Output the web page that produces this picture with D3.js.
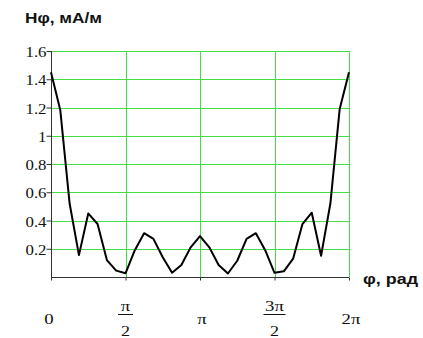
<!DOCTYPE html>
<html>
<head>
<meta charset="utf-8">
<script src="https://cdn.jsdelivr.net/npm/d3@7"></script>
<style>
  body { margin: 0; background: #fff; }
  svg { display: block; }
  .serif { font-family: "Liberation Serif", "Times New Roman", "DejaVu Serif", serif; font-size: 14px; fill: #111; }
  .bold { font-family: "Liberation Sans", Arial, sans-serif; font-weight: bold; font-size: 15px; fill: #111; }
</style>
</head>
<body>
<div id="graph"></div>
<script>
// field values H(phi), sampled at phi = k*pi/16, k = 0..32
var hValues = [1.45, 1.18, 0.52, 0.155, 0.45, 0.375, 0.12, 0.045, 0.026,
               0.19, 0.31, 0.27, 0.14, 0.03, 0.085, 0.21, 0.29,
               0.21, 0.085, 0.025, 0.115, 0.27, 0.31, 0.19, 0.03,
               0.04, 0.13, 0.375, 0.455, 0.15, 0.52, 1.19, 1.45];
var yTicks = [0.2, 0.4, 0.6, 0.8, 1, 1.2, 1.4, 1.6];
var xTicks = [0, Math.PI / 2, Math.PI, 3 * Math.PI / 2, 2 * Math.PI];
// tick labels: [numerator, denominator] (denominator empty = plain label)
var xTickLabels = [["0", ""], ["\u03c0", "2"], ["\u03c0", ""], ["3\u03c0", "2"], ["2\u03c0", ""]];

var width = 423, height = 338;
var margin = {left: 51, right: 74, top: 51, bottom: 61};

// the original picture is a bit wider than tall, stretch text the same way
function stretch(sel, k) {
  sel.each(function() {
    var w = this.getComputedTextLength();
    d3.select(this)
      .attr("textLength", w * k)
      .attr("lengthAdjust", "spacingAndGlyphs");
  });
}

var svg = d3.select("#graph").append("svg")
  .attr("width", width)
  .attr("height", height);

var x = d3.scaleLinear()
  .domain([0, 2 * Math.PI])
  .range([margin.left, width - margin.right]);

var y = d3.scaleLinear()
  .domain([0, 1.6])
  .range([height - margin.bottom, margin.top]);

var green = "#44dd44";

// horizontal grid
svg.selectAll(".hgrid")
  .data(yTicks)
  .enter()
  .append("line")
  .attr("class", "hgrid")
  .attr("x1", x(0))
  .attr("x2", x(2 * Math.PI))
  .attr("y1", function(d) { return Math.round(y(d)) + 0.5; })
  .attr("y2", function(d) { return Math.round(y(d)) + 0.5; })
  .attr("stroke", green)
  .attr("stroke-width", 1);

// vertical grid
svg.selectAll(".vgrid")
  .data(xTicks.slice(1))
  .enter()
  .append("line")
  .attr("class", "vgrid")
  .attr("x1", function(d) { return Math.round(x(d)) + 0.5; })
  .attr("x2", function(d) { return Math.round(x(d)) + 0.5; })
  .attr("y1", y(1.6))
  .attr("y2", y(0))
  .attr("stroke", green)
  .attr("stroke-width", 1);

// left axis
var yAxis = d3.axisLeft(y)
  .tickValues(yTicks)
  .tickSize(5)
  .tickFormat(d3.format("~g"));

var gy = svg.append("g")
  .attr("transform", "translate(" + (margin.left + 0.5) + ",0)")
  .call(yAxis)
  .attr("font-family", null)
  .attr("font-size", null);
gy.select(".domain").attr("stroke", "#333").attr("d", "M0," + y(1.6) + "V" + y(0));
gy.selectAll(".tick line").attr("stroke", "#333");
gy.selectAll(".tick text")
  .attr("x", -5)
  .attr("dy", "0.4em")
  .attr("class", "serif")
  .call(stretch, 1.2);

// bottom axis
var xAxis = d3.axisBottom(x)
  .tickValues(xTicks)
  .tickSize(3)
  .tickFormat("");

var gx = svg.append("g")
  .attr("transform", "translate(0," + (Math.round(y(0)) + 0.5) + ")")
  .call(xAxis);
gx.select(".domain").attr("stroke", "#333").attr("d", "M" + x(0) + ",0H" + x(2 * Math.PI));
gx.selectAll(".tick line").attr("stroke", "#333");

// x tick labels (fractions of pi)
var lab = svg.selectAll(".xlab")
  .data(xTicks)
  .enter()
  .append("g")
  .attr("class", "xlab")
  .attr("transform", function(d) { return "translate(" + x(d) + ",0)"; });

lab.each(function(d, i) {
  var g = d3.select(this);
  var t = xTickLabels[i];
  if (t[1] === "") {
    g.append("text")
      .attr("class", "serif")
      .attr("x", i == 0 ? -2 : 2)
      .attr("y", 324)
      .attr("text-anchor", "middle")
      .style("font-size", "15px")
      .text(t[0])
      .call(stretch, 1.25);
  } else {
    g.append("text")
      .attr("class", "serif")
      .attr("y", 311)
      .attr("text-anchor", "middle")
      .style("font-size", "15px")
      .text(t[0])
      .call(stretch, 1.25);
    g.append("line")
      .attr("x1", i == 3 ? -11 : -7.5).attr("x2", i == 3 ? 11 : 7.5)
      .attr("y1", 314.5).attr("y2", 314.5)
      .attr("stroke", "#111")
      .attr("stroke-width", 1);
    g.append("text")
      .attr("class", "serif")
      .attr("y", 336)
      .attr("text-anchor", "middle")
      .style("font-size", "15px")
      .text(t[1])
      .call(stretch, 1.2);
  }
});

// curve
var line = d3.line()
  .x(function(d, i) { return x(i * Math.PI / 16); })
  .y(function(d) { return y(d); });

svg.append("path")
  .datum(hValues)
  .attr("d", line)
  .attr("fill", "none")
  .attr("stroke", "#000")
  .attr("stroke-width", 2)
  .attr("stroke-linejoin", "round");

// titles
svg.append("text")
  .attr("class", "bold")
  .attr("x", 25)
  .attr("y", 23)
  .attr("textLength", 77)
  .attr("lengthAdjust", "spacingAndGlyphs")
  .text("Нφ, мА/м");

svg.append("text")
  .attr("class", "bold")
  .attr("x", 363)
  .attr("y", 284)
  .attr("textLength", 55)
  .attr("lengthAdjust", "spacingAndGlyphs")
  .text("φ, рад");
</script>
</body>
</html>
